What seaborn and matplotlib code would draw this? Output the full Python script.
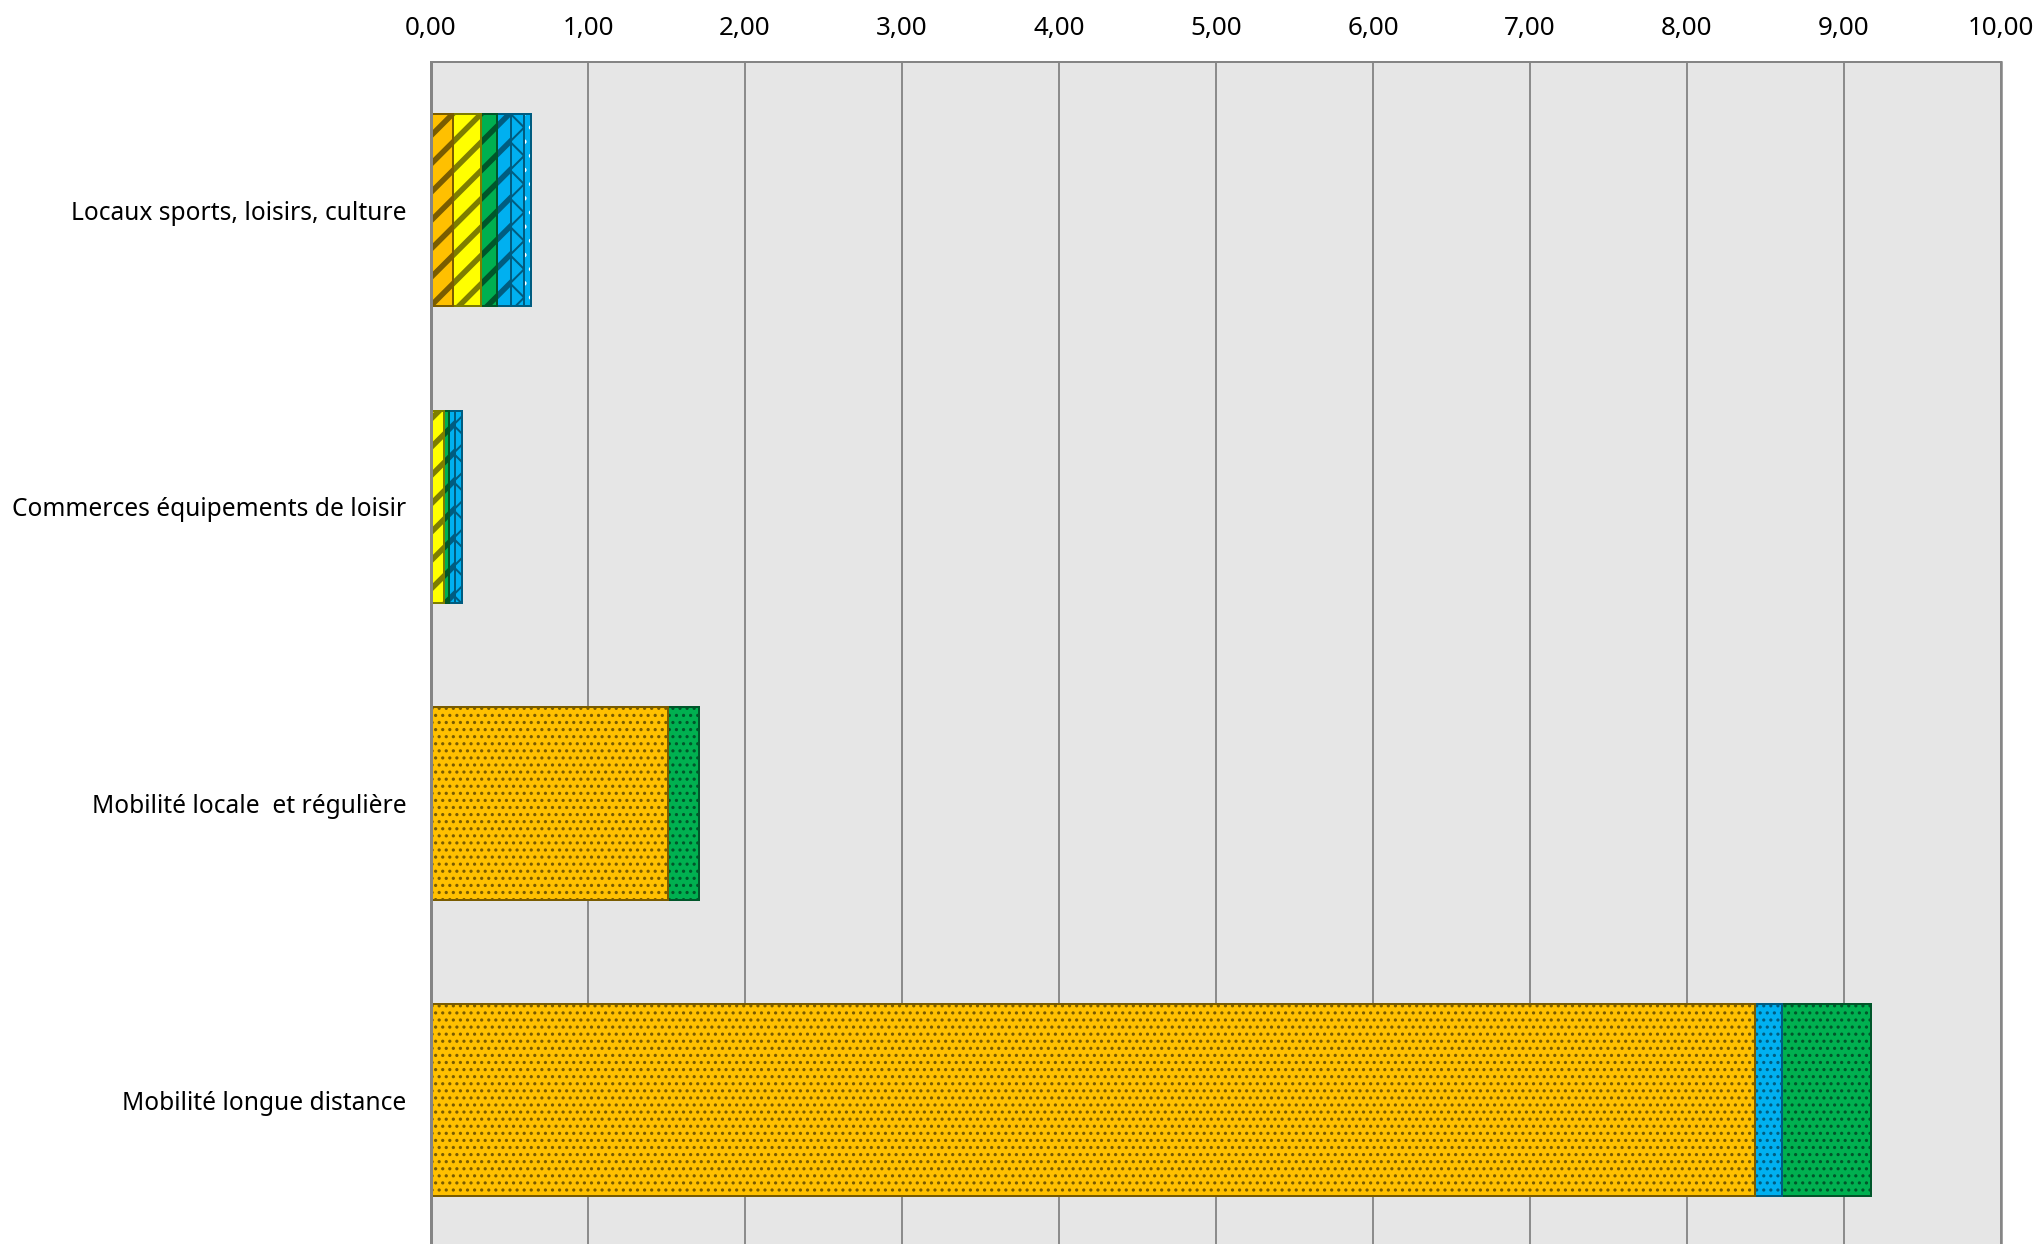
import numpy as np
import pandas as pd
import matplotlib
matplotlib.use("Agg")
import matplotlib.pyplot as plt
import seaborn as sns

# Catégories (de haut en bas)
categories = [
    "Locaux sports, loisirs, culture",
    "Commerces équipements de loisir",
    "Mobilité locale  et régulière",
    "Mobilité longue distance",
]

# Séries empilées, dans l'ordre de gauche à droite
bat_orange = [0.14, 0.0, 0.0, 0.0]
bat_jaune = [0.18, 0.085, 0.0, 0.0]
bat_vert = [0.10, 0.027, 0.0, 0.0]
bat_bleu = [0.09, 0.043, 0.0, 0.0]
bat_bleu_croise = [0.085, 0.043, 0.0, 0.0]
bat_bleu_clair = [0.04, 0.0, 0.0, 0.0]
mob_orange = [0.0, 0.0, 1.51, 8.43]
mob_bleu = [0.0, 0.0, 0.0, 0.175]
mob_vert = [0.0, 0.0, 0.20, 0.565]

x_ticks = [0, 1, 2, 3, 4, 5, 6, 7, 8, 9, 10]
x_tick_labels = ["0,00", "1,00", "2,00", "3,00", "4,00", "5,00",
                 "6,00", "7,00", "8,00", "9,00", "10,00"]

DPI = 170
PX = 72.0 / DPI  # one pixel in points

ORANGE, JAUNE, VERT, BLEU = "#FFC000", "#FFFF00", "#00B050", "#00B0F0"

# (valeurs, couleur, contour/hachure, motif, épaisseur hachure en px)
layers = [
    (bat_orange, ORANGE, "#7A5C00", "//", 5.5),
    (bat_jaune, JAUNE, "#7D7D00", "//", 5.5),
    (bat_vert, VERT, "#00562A", "//", 5.5),
    (bat_bleu, BLEU, "#005C80", "//", 5.5),
    (bat_bleu_croise, BLEU, "#005C80", "xx", 2.0),
    (bat_bleu_clair, BLEU, "white", "..", 2.0),
    (mob_orange, ORANGE, "#7A5C00", "....", 1.8),
    (mob_bleu, BLEU, "#005C80", "....", 1.8),
    (mob_vert, VERT, "#00562A", "....", 1.8),
]

sns.set_theme(style="white")
plt.rcParams["font.family"] = ["Noto Sans", "DejaVu Sans"]

fig = plt.figure(figsize=(2041 / DPI, 1244 / DPI), dpi=DPI)
ax = fig.add_axes([431 / 2041, -4.5 / 1244, 1570 / 2041, 1186.5 / 1244])
ax.set_facecolor("#E6E6E6")

values = np.array([l[0] for l in layers], dtype=float)
cumul = np.cumsum(values, axis=0)
cats = np.array(categories)
BAR_W = 0.648
EDGE_LW = 2.0 * PX


def draw_layer(x_vals, mask, **kws):
    hlw = kws.pop("hatch_lw_px", 1.0) * PX
    df = pd.DataFrame({"categorie": cats[mask], "cumul": x_vals[mask]})
    n0 = len(ax.patches)
    with plt.rc_context({"hatch.linewidth": hlw}):
        sns.barplot(data=df, x="cumul", y="categorie", order=categories,
                    orient="h", saturation=1, width=BAR_W, errorbar=None,
                    ax=ax, **kws)
    for p in ax.patches[n0:]:
        if hasattr(p, "set_hatch_linewidth"):
            p.set_hatch_linewidth(hlw)


# Barres cumulées, tracées de la plus longue à la plus courte
for i in range(len(layers) - 1, -1, -1):
    vals, face, edge, hatch, hlw = layers[i]
    mask = values[i] > 0
    if not mask.any():
        continue
    if edge == "white":
        draw_layer(cumul[i], mask, color=face, edgecolor="white",
                   linewidth=0, hatch=hatch, hatch_lw_px=hlw)
        draw_layer(cumul[i], mask, color="#005C80", fill=False,
                   linewidth=EDGE_LW)
    else:
        draw_layer(cumul[i], mask, color=face, edgecolor=edge,
                   linewidth=EDGE_LW, hatch=hatch, hatch_lw_px=hlw)

ax.set_xlim(0, 10)
ax.set_ylim(3.5, -0.5)
ax.set_xticks(x_ticks)
ax.set_xticklabels(x_tick_labels)
ax.xaxis.tick_top()
ax.tick_params(axis="x", length=0, pad=9, labelsize=11, colors="black")
ax.tick_params(axis="y", length=0, pad=10.5, labelsize=10.4, colors="black")
ax.set_xlabel("")
ax.set_ylabel("")

ax.grid(axis="x", color="#8C8C8C", linewidth=2.0 * PX)
ax.grid(axis="y", visible=False)
ax.set_axisbelow(True)

for side in ("left", "top", "right"):
    ax.spines[side].set_visible(True)
    ax.spines[side].set_color("#858585")
ax.spines["left"].set_linewidth(3.0 * PX)
ax.spines["right"].set_linewidth(2.5 * PX)
ax.spines["top"].set_linewidth(2.0 * PX)
ax.spines["bottom"].set_visible(False)

fig.savefig("out.png", dpi=DPI, facecolor="white")
